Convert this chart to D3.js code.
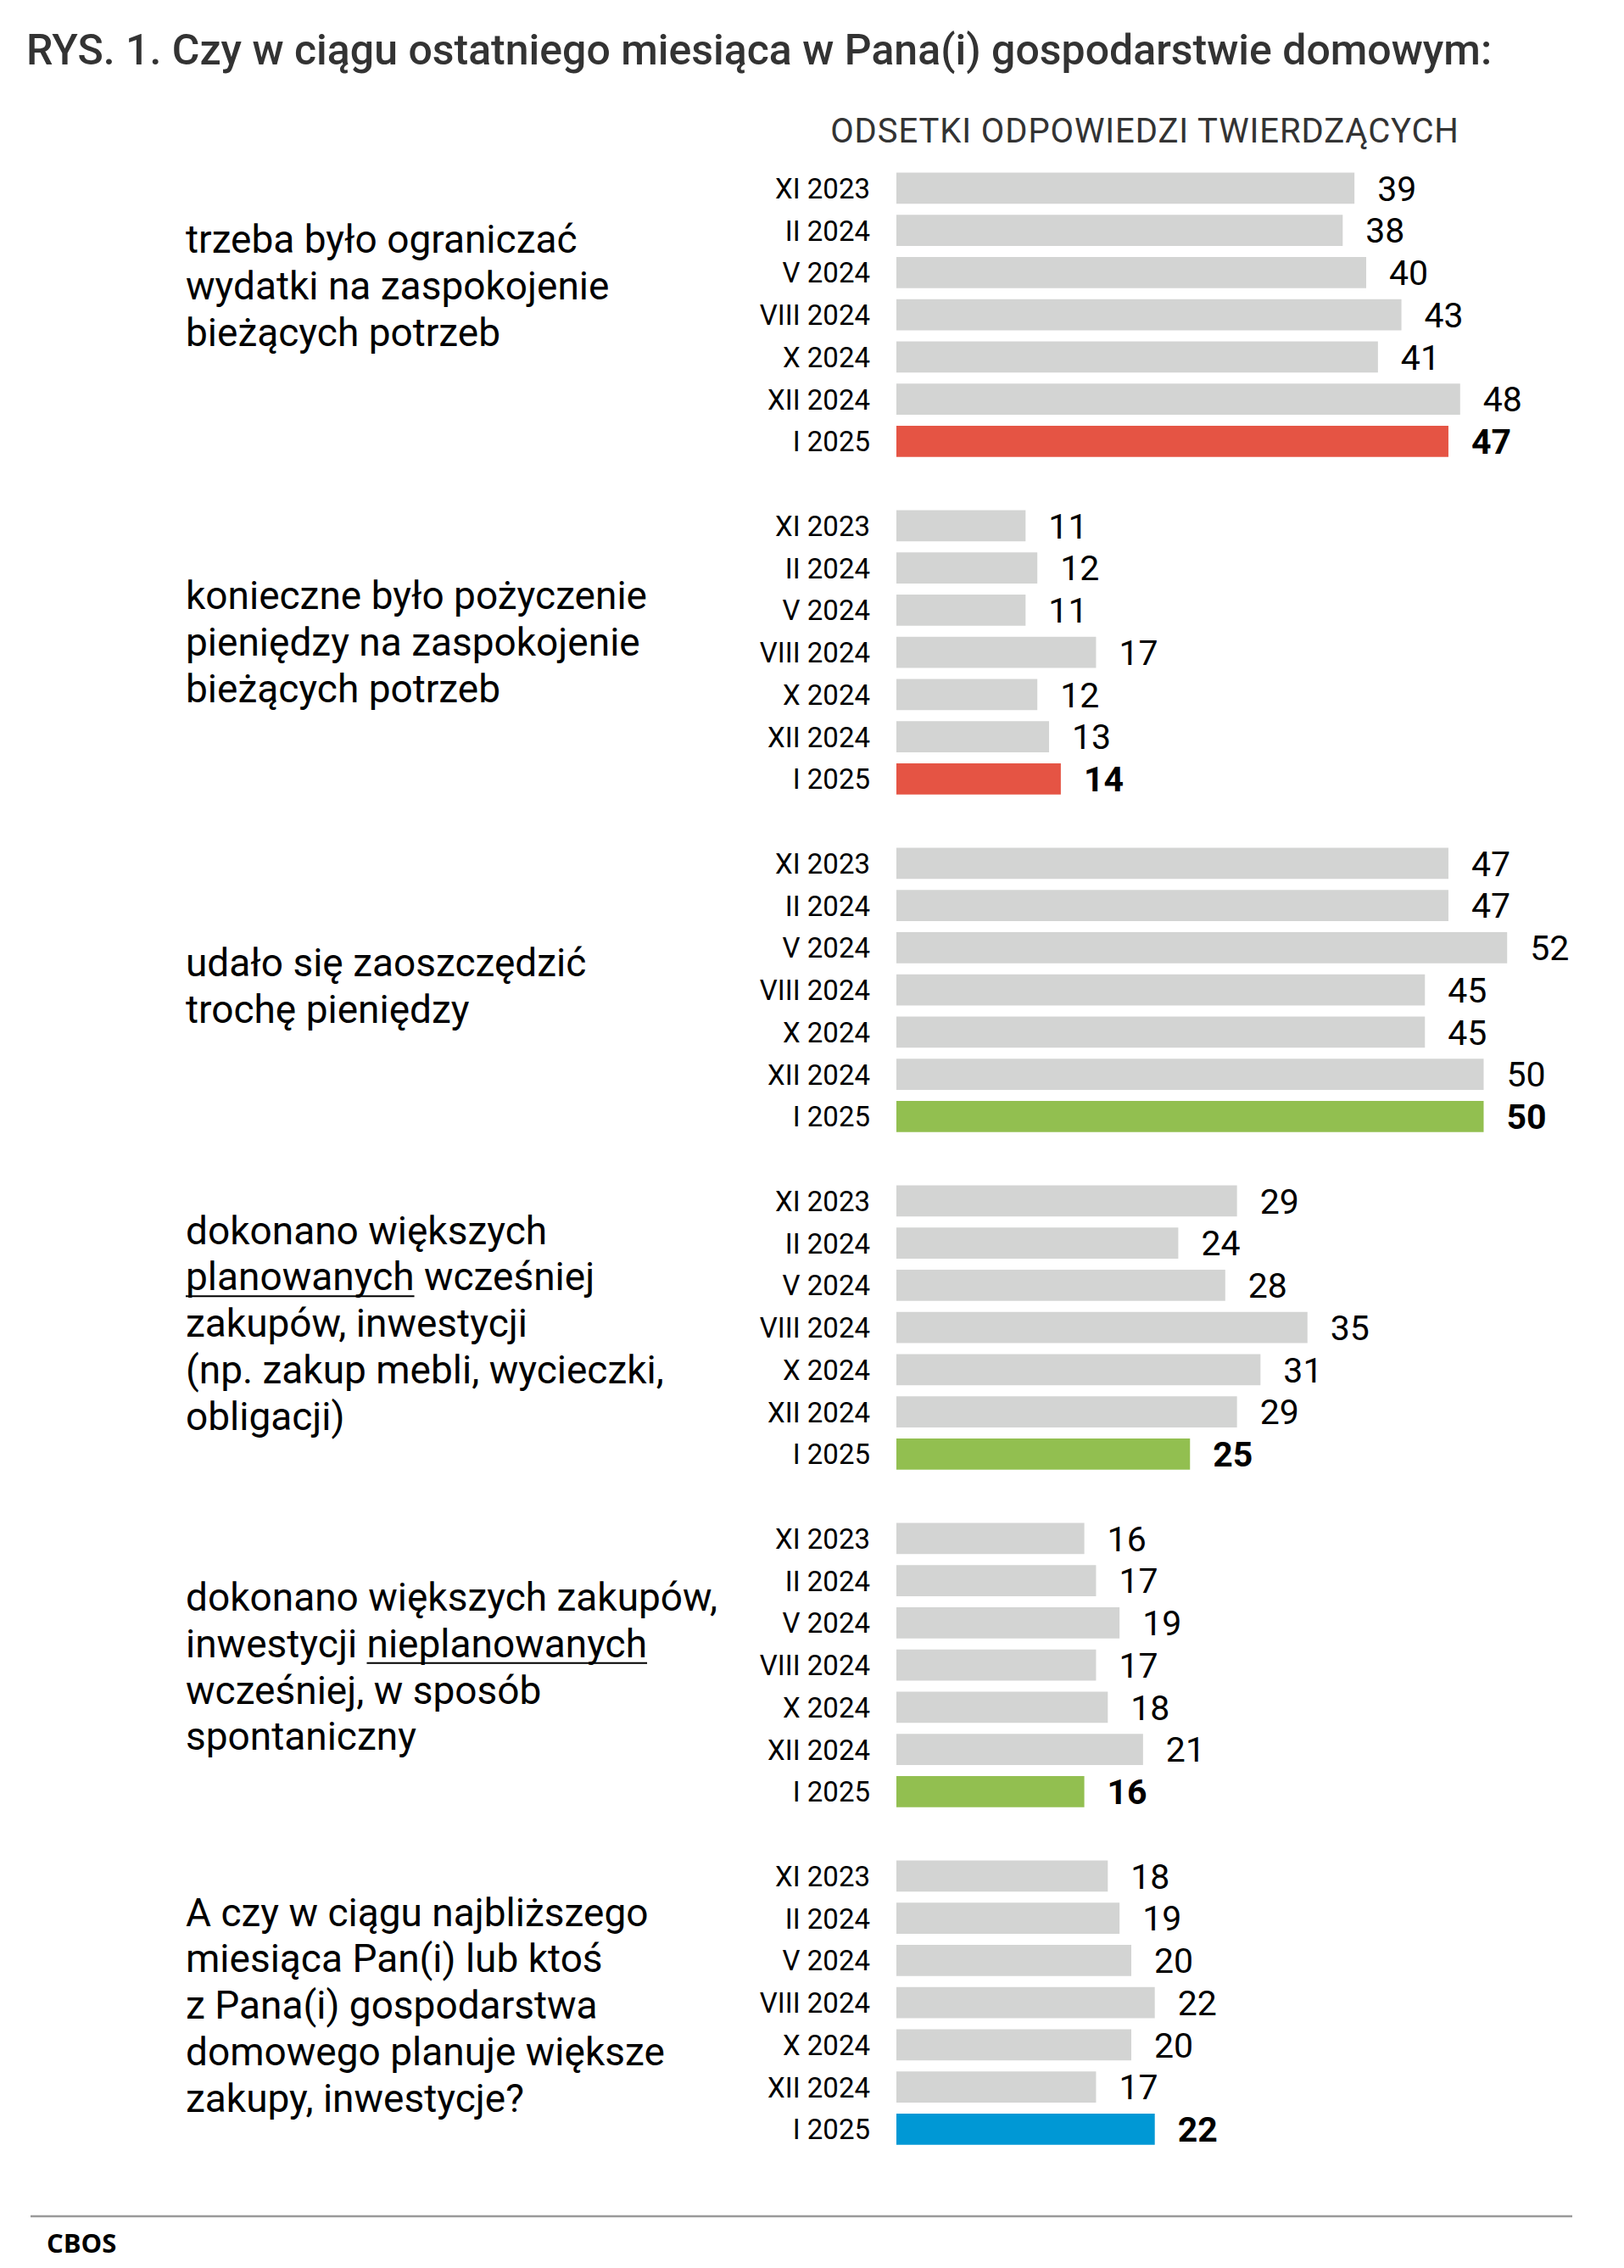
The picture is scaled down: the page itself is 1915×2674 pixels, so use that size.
<!DOCTYPE html>
<html><head><meta charset="utf-8">
<script src="https://cdn.jsdelivr.net/npm/d3@7"></script>
<style>
html,body{margin:0;padding:0;background:#fff;}
svg{display:block;}
</style></head>
<body>
<svg id="chart" width="1915" height="2674"></svg>
<script>
// ---- DATA ----
const periods = ["XI 2023", "II 2024", "V 2024", "VIII 2024", "X 2024", "XII 2024", "I 2025"];
const questionIds = ["q1", "q2", "q3", "q4", "q5", "q6"];
const q1Values = [39, 38, 40, 43, 41, 48, 47];
const q2Values = [11, 12, 11, 17, 12, 13, 14];
const q3Values = [47, 47, 52, 45, 45, 50, 50];
const q4Values = [29, 24, 28, 35, 31, 29, 25];
const q5Values = [16, 17, 19, 17, 18, 21, 16];
const q6Values = [18, 19, 20, 22, 20, 17, 22];
const questionLabels = [
  [[["trzeba było ograniczać", false]], [["wydatki na zaspokojenie", false]], [["bieżących potrzeb", false]]],
  [[["konieczne było pożyczenie", false]], [["pieniędzy na zaspokojenie", false]], [["bieżących potrzeb", false]]],
  [[["udało się zaoszczędzić", false]], [["trochę pieniędzy", false]]],
  [[["dokonano większych", false]], [["planowanych", true], [" wcześniej", false]], [["zakupów, inwestycji", false]], [["(np. zakup mebli, wycieczki,", false]], [["obligacji)", false]]],
  [[["dokonano większych zakupów,", false]], [["inwestycji ", false], ["nieplanowanych", true]], [["wcześniej, w sposób", false]], [["spontaniczny", false]]],
  [[["A czy w ciągu najbliższego", false]], [["miesiąca Pan(i) lub ktoś", false]], [["z Pana(i) gospodarstwa", false]], [["domowego planuje większe", false]], [["zakupy, inwestycje?", false]]]
];
const highlightType = ["neg", "neg", "pos", "pos", "pos", "plan"];
const titleText = "RYS. 1. Czy w ciągu ostatniego miesiąca w Pana(i) gospodarstwie domowym:";
const headerText = "ODSETKI ODPOWIEDZI TWIERDZĄCYCH";
const sourceText = "CBOS";

// ---- LAYOUT ----
const allValues = [q1Values, q2Values, q3Values, q4Values, q5Values, q6Values];
const colors = {neg: "#e55444", pos: "#92bf50", plan: "#0098d5"};
const grey = "#d3d4d3";
const labelShift = [-29, -7, 0, 0, 7, 8];

const svg = d3.select("#chart");
const x = d3.scaleLinear().domain([0, 100]).range([1057, 1057 + 1385]);
const y0 = 197, groupStep = 398, slotStep = 49.75;
const yOuter = d3.scaleBand().domain(questionIds)
  .range([y0, y0 + 6 * groupStep - slotStep]).paddingInner(0.125).paddingOuter(0);
const yInner = d3.scaleBand().domain(periods)
  .range([0, yOuter.bandwidth()]).paddingInner(0.262).paddingOuter(0.131);

// title
svg.append("text").attr("x", 31).attr("y", 76)
  .attr("font-family", "Roboto").attr("font-weight", 500).attr("font-size", 50)
  .attr("fill", "#333").text(titleText);
svg.append("text").attr("x", 1350).attr("y", 168).attr("text-anchor", "middle")
  .attr("font-family", "Roboto").attr("font-size", 40).attr("letter-spacing", 0.9)
  .attr("fill", "#333").text(headerText);

questionIds.forEach((qid, gi) => {
  const g = svg.append("g").attr("transform", `translate(0,${yOuter(qid)})`);
  const vals = allValues[gi];
  const rows = periods.map((p, i) => ({p, v: vals[i], last: i === periods.length - 1}));

  g.selectAll("rect.bar").data(rows).join("rect").attr("class", "bar")
    .attr("x", x(0)).attr("y", d => yInner(d.p))
    .attr("width", d => x(d.v) - x(0)).attr("height", yInner.bandwidth())
    .attr("fill", d => d.last ? colors[highlightType[gi]] : grey);

  g.selectAll("text.cat").data(rows).join("text").attr("class", "cat")
    .attr("x", 1026).attr("y", d => yInner(d.p) + yInner.bandwidth() / 2)
    .attr("dy", "0.36em").attr("text-anchor", "end")
    .attr("font-family", "Roboto").attr("font-size", 33).attr("fill", "#000")
    .text(d => d.p);

  g.selectAll("text.val").data(rows).join("text").attr("class", "val")
    .attr("x", d => x(d.v) + 27).attr("y", d => yInner(d.p) + yInner.bandwidth() / 2)
    .attr("dy", "0.36em")
    .attr("font-family", "Roboto").attr("font-size", 41)
    .attr("font-weight", d => d.last ? 700 : 400).attr("fill", "#000")
    .text(d => d.v);

  // question label
  const lines = questionLabels[gi];
  const lh = 54.8;
  const center = yOuter.bandwidth() / 2 + 11 + labelShift[gi];
  const firstBase = center - (lines.length - 1) * lh / 2;
  lines.forEach((segs, li) => {
    const t = g.append("text").attr("x", 219).attr("y", firstBase + li * lh)
      .attr("font-family", "Roboto").attr("font-size", 46).attr("fill", "#000");
    let idx = 0;
    const ul = [];
    segs.forEach(([s, u]) => {
      t.append("tspan").text(s);
      if (u) ul.push([idx, idx + s.length - 1]);
      idx += s.length;
    });
    const node = t.node();
    ul.forEach(([a, b]) => {
      const xs = node.getStartPositionOfChar(a).x;
      const xe = node.getEndPositionOfChar(b).x;
      g.append("line").attr("x1", xs).attr("x2", xe)
        .attr("y1", firstBase + li * lh + 7).attr("y2", firstBase + li * lh + 7)
        .attr("stroke", "#000").attr("stroke-width", 2);
    });
  });
});

// footer
svg.append("line").attr("x1", 36).attr("x2", 1854).attr("y1", 2613).attr("y2", 2613)
  .attr("stroke", "#999").attr("stroke-width", 2.5);
svg.append("text").attr("x", 55).attr("y", 2656)
  .attr("font-family", "Open Sans").attr("font-weight", 700).attr("font-size", 31)
  .attr("fill", "#000").text(sourceText);
</script>
</body></html>
